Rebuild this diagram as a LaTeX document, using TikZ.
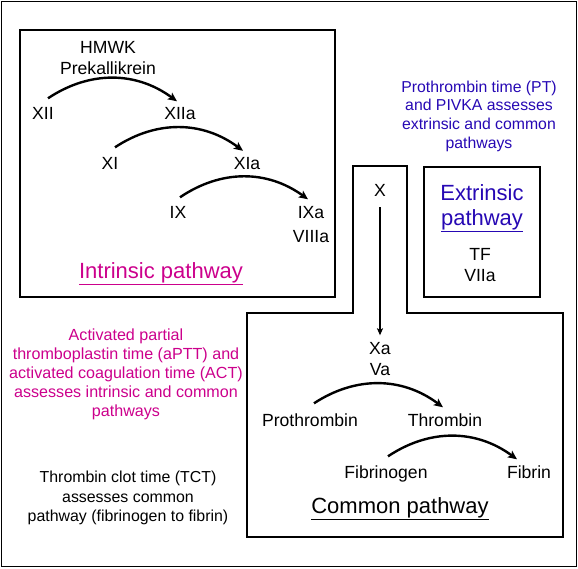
\documentclass[tikz,border=0pt]{standalone}
\usepackage{fontspec}
\setmainfont{Liberation Sans}
\usepackage{tikz}
\usetikzlibrary{positioning}
\usetikzlibrary{arrows.meta}
\definecolor{ptblue}{RGB}{38,8,180}
\definecolor{apttpink}{RGB}{204,0,140}
\tikzset{factor/.style={inner sep=1pt,
                        text height=12.8pt,
                        text depth=3.7pt,
                        font=\fontsize{17.6}{21}\selectfont
                        },
        pathname/.style={inner sep=1pt,
                        align=center,
                        font=\fontsize{22}{25}\selectfont
        },
        testnote/.style={inner sep=0pt,
                        align=center
        },
        reaction/.style={-{Stealth[length=9pt,width=8pt,inset=2pt]},
                        line width=2.4pt,
                        bend left=35
        },
        compartment/.style={line width=1.8pt},
}

\begin{document}
\begin{tikzpicture}
    [x=1pt,y=1pt,node distance=2.5pt]

    \useasboundingbox (0,0) rectangle (578,-568);
    \draw[line width=1pt] (1,-1) rectangle (576.5,-566.5);

    % INTRINSIC PATHWAY
    \draw[compartment] (20,-30) rectangle (335,-297);

    \node[factor] (hmwk) at (108,-48.75) {HMWK};
    \node[factor, below=of hmwk] (prekallikrein) {Prekallikrein};

    \node[factor] (xii) at (43,-114.75) {XII};
    \node[factor] (xiia) at (180,-114.75) {XIIa};
    \node[factor] (xi) at (110,-164.75) {XI};
    \node[factor] (xia) at (247,-164.75) {XIa};
    \node[factor] (ix) at (178,-213.75) {IX};
    \node[factor] (ixa) at (311,-213.75) {IXa};
    \node[factor, below=5.5pt of ixa] (viiia) {VIIIa};

    \node[pathname, text=apttpink, anchor=base] (intrinsic) at (161,-278) {\underline{Intrinsic pathway}};

    \draw[reaction] ([shift={(5,7)}]xii.north) to ([shift={(-3,4)}]xiia.north);
    \draw[reaction] ([shift={(5,8)}]xi.north) to ([shift={(-4,4.5)}]xia.north);
    \draw[reaction] ([shift={(2,7)}]ix.north) to ([shift={(-3,5)}]ixa.north);

    % COMMON PATHWAY
    \draw[compartment] (247,-313) -- (353,-313) -- (353,-166) -- (407,-166)
        -- (407,-313) -- (563,-313) -- (563,-537) -- (247,-537) -- cycle;

    \node[factor] (x) at (380,-191.75) {X};
    \node[factor] (xa) at (380,-349.75) {Xa};
    \node[factor, below=of xa] (va) {Va};

    \node[factor] (prothrombin) at (310,-421.75) {Prothrombin};
    \node[factor] (thrombin) at (445,-421.75) {Thrombin};
    \node[factor] (fibrinogen) at (386,-473.75) {Fibrinogen};
    \node[factor] (fibrin) at (529,-473.75) {Fibrin};

    \node[pathname, anchor=base] (common) at (400,-513) {\underline{Common pathway}};

    \draw[-{Stealth[length=7pt,width=6pt,inset=1.5pt]},line width=1.5pt,
        shorten <=6pt,shorten >=5pt] (x) -- (xa);
    \draw[reaction] ([shift={(4,9)}]prothrombin.north) to ([shift={(-2,5)}]thrombin.north);
    \draw[reaction] ([shift={(2,8)}]fibrinogen.north) to ([shift={(-12,5)}]fibrin.north);

    % EXTRINSIC PATHWAY
    \draw[compartment] (424,-167) rectangle (540,-297);

    \node[pathname, text=ptblue] (extrinsic) at (482,-208) {Extrinsic\\\underline{pathway}};
    \node[factor] (tf) at (480,-255.75) {TF};
    \node[factor, below=of tf] (viia) {VIIa};

    % TESTS
    \node[testnote, text=ptblue, font=\fontsize{15.8}{18.7}\selectfont] (pt) at (479,-116)
        {Prothrombin time (PT)\\and PIVKA assesses\\extrinsic and common\\pathways};

    \node[testnote, text=apttpink, font=\fontsize{16.1}{19}\selectfont] (aptt) at (126,-374)
        {Activated partial\\thromboplastin time (aPTT) and\\activated coagulation time (ACT)\\assesses intrinsic and common\\pathways};

    \node[testnote, font=\fontsize{15.9}{19.5}\selectfont] (tct) at (128,-498)
        {Thrombin clot time (TCT)\\assesses common\\pathway (fibrinogen to fibrin)};

\end{tikzpicture}
\end{document}
